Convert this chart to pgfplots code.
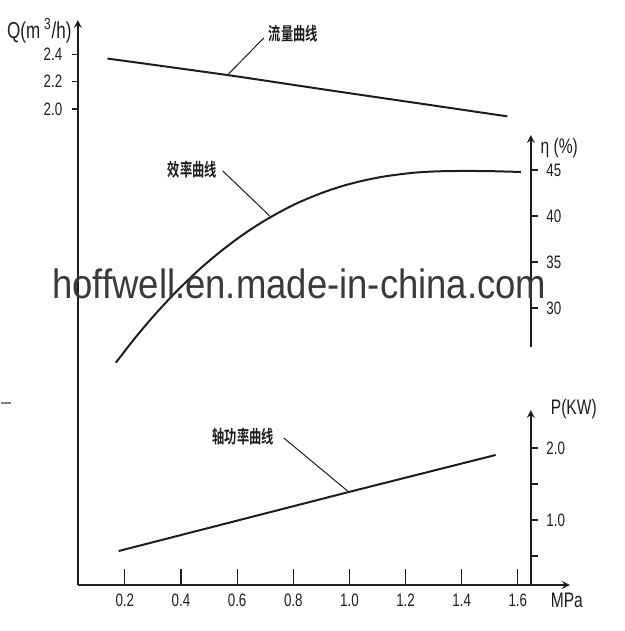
\documentclass[border=0pt]{standalone}
\usepackage{fontspec}
\setmainfont{Liberation Sans}[FakeStretch=0.74]
\newfontfamily\wmfont{Liberation Sans}
\newfontfamily\cjk{Noto Sans CJK SC Bold}[FakeStretch=0.68]
\usepackage{graphicx}
\usepackage{pgfplots}
\pgfplotsset{compat=1.18}
\usetikzlibrary{arrows.meta}
\definecolor{ink}{HTML}{1E1E1E}
\definecolor{wm}{HTML}{3A3A3A}

% shared look of the three overlaid axes (1 px of the reference = 0.5pt)
\pgfplotsset{
  pumpaxis/.style={
    scale only axis, anchor=south west, clip=false,
    xmin=0.0324,
    axis line style={ink, line width=0.75pt, -{Latex[length=5pt,width=3pt]}},
    every tick/.style={ink, line width=0.6pt},
    tick label style={font=\fontsize{9}{10}\selectfont, text=ink},
    /pgf/number format/assume math mode=true,
  },
}

\begin{document}
\begin{tikzpicture}
  \begin{scope}[x=0.5pt, y=-0.5pt, shift={(0pt,315.5pt)}]
    \path[use as bounding box] (0,0) rectangle (624,631);
  \end{scope}

  % flow rate Q and pressure axis
  \begin{axis}[pumpaxis, at={(38.5pt,23pt)}, width=246pt, height=282.5pt,
      xmax=1.7852, ymin=-1.482, ymax=2.651,
      axis x line=bottom, axis y line=left,
      xtick={0.2,0.4,0.6,0.8,1.0,1.2,1.4,1.6},
      ytick={2.0,2.2,2.4},
      xtick align=inside, ytick align=outside,
      xtick style={/pgfplots/major tick length=8pt},
      ytick style={/pgfplots/major tick length=3pt},
      xticklabel style={yshift=-1pt, /pgf/number format/.cd, fixed, fixed zerofill, precision=1},
      yticklabel style={/pgf/number format/.cd, fixed, fixed zerofill, precision=1}]
    \addplot[ink, line width=1pt, smooth] coordinates {
      (0.138,2.369)(0.566,2.248)(0.922,2.139)(1.278,2.032)(1.563,1.946)};
  \end{axis}

  % efficiency eta
  \begin{axis}[pumpaxis, at={(38.5pt,142pt)}, width=226.5pt, height=106pt,
      xmax=1.6463, ymin=25.76, ymax=48.80,
      axis x line=none, axis y line=right, xtick=\empty,
      ytick={30,35,40,45}, ytick align=outside,
      ytick style={/pgfplots/major tick length=3.5pt}]
    \addplot[ink, line width=1pt, smooth] coordinates {
      (0.1678,24.05)(0.2390,26.84)(0.3103,29.39)(0.3887,31.95)(0.4706,34.33)
      (0.5419,36.16)(0.6131,37.80)(0.6844,39.24)(0.7556,40.49)(0.8269,41.57)
      (0.9159,42.66)(1.0050,43.51)(1.1119,44.23)(1.2294,44.70)(1.3257,44.86)
      (1.4148,44.89)(1.5038,44.87)(1.6107,44.78)};
  \end{axis}

  % shaft power P
  \begin{axis}[pumpaxis, at={(38.5pt,23pt)}, width=226.5pt, height=87.5pt,
      xmax=1.6463, ymin=0.097, ymax=2.528,
      axis x line=none, axis y line=right, xtick=\empty,
      ytick={0.5,1.0,1.5,2.0}, yticklabels={,1.0,,2.0}, ytick align=outside,
      ytick style={/pgfplots/major tick length=3.5pt}]
    \addplot[ink, line width=1pt] coordinates {
      (0.178,0.569)(0.998,1.389)(1.521,1.903)};
  \end{axis}

  % labels, leaders and watermark in reference pixel units
  \begin{scope}[x=0.5pt, y=-0.5pt, shift={(0pt,315.5pt)}]
    \begin{scope}[text=ink, font=\fontsize{10.5}{12}\selectfont]
      \node[font=\fontsize{11.5}{13}\selectfont] at (38.5,30.5) {Q(m\,\textsuperscript{3}/h)};
      \node at (558.5,148) {η (\%)};
      \node at (573,409) {P(KW)};
      \node at (566,600) {MPa};
    \end{scope}
    \begin{scope}[text=ink, font=\cjk\fontsize{9}{10}\selectfont]
      \node at (292.5,34) {流量曲线};
      \node at (191.5,169.5) {效率曲线};
      \node at (242.5,437) {轴功率曲线};
    \end{scope}
    \draw[ink, line width=0.5pt] (226.7,75) -- (263,38);
    \draw[ink, line width=0.5pt] (270,217) -- (222,171);
    \draw[ink, line width=0.5pt] (348,492) -- (283,438);
    \draw[gray, line width=0.8pt] (0,403) -- (10,403);
    \node[anchor=base, text=wm, font=\wmfont\fontsize{20.5}{24}\selectfont]
      at (298.5,299) {\scalebox{0.89}[1]{hoffwell.en.made-in-china.com}};
  \end{scope}
\end{tikzpicture}
\end{document}
